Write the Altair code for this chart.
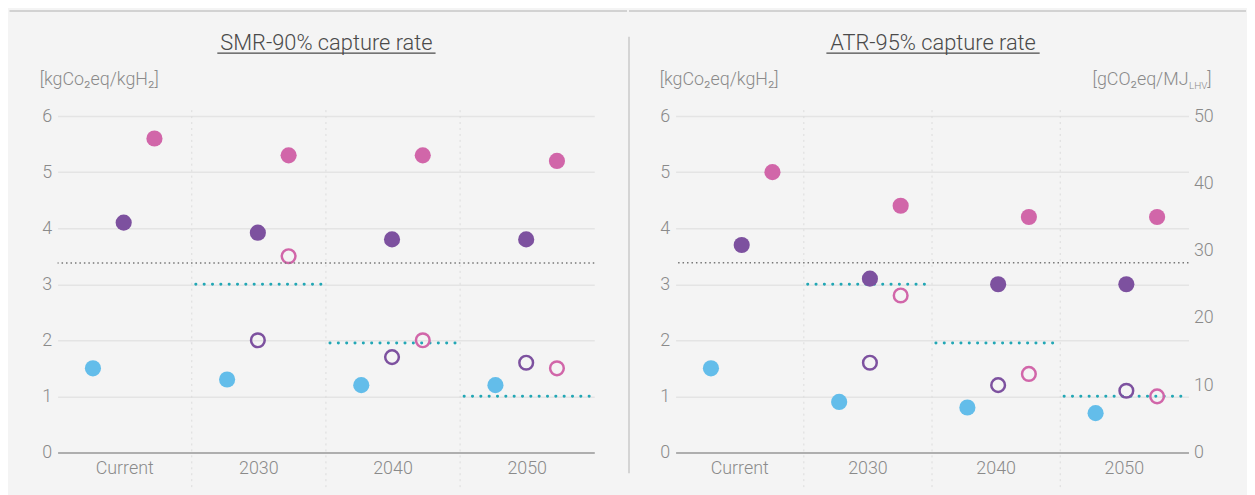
import altair as alt
import pandas as pd

# ---------------- data ----------------
CATEGORIES = ["Current", "2030", "2040", "2050"]
SERIES = ["Series A", "Series B", "Series C"]          # blue, purple, pink
COLORS = ["#63bdea", "#7d519f", "#d166a9"]

# SMR - 90% capture rate  (kgCO2eq/kgH2)
SMR_A = [1.5, 1.3, 1.2, 1.2]
SMR_B = [4.1, 3.92, 3.8, 3.8]
SMR_C = [5.6, 5.3, 5.3, 5.2]
OPEN_CATS = ["2030", "2040", "2050"]
SMR_B_OPEN = [2.0, 1.7, 1.6]
SMR_C_OPEN = [3.5, 2.0, 1.5]

# ATR - 95% capture rate  (kgCO2eq/kgH2)
ATR_A = [1.5, 0.9, 0.8, 0.7]
ATR_B = [3.7, 3.1, 3.0, 3.0]
ATR_C = [5.0, 4.4, 4.2, 4.2]
ATR_B_OPEN = [1.6, 1.2, 1.1]
ATR_C_OPEN = [2.8, 1.4, 1.0]

TARGET_CATS = ["2030", "2040", "2050"]
TARGET_VALUES = [3.0, 1.95, 1.0]
GRID_CATS = ["2030", "2040", "2050"]
THRESHOLD_KG = 3.38      # kgCO2eq/kgH2
THRESHOLD_G = 28.2       # gCO2eq/MJ
KG_TICKS = [0, 1, 2, 3, 4, 5, 6]
G_TICKS = [0, 10, 20, 30, 40, 50]

FONT = "Roboto"
H = 339
TXT = "#8a8a8a"
SERIES_EXPR = "indexof(['Series A','Series B','Series C'], datum.series) - 1"


def panel(title, a, b, c, b_open, c_open, width, right_axis, underline, spread):
    filled = pd.DataFrame(
        [{"cat": k, "series": SERIES[0], "value": v} for k, v in zip(CATEGORIES, a)]
        + [{"cat": k, "series": SERIES[1], "value": v} for k, v in zip(CATEGORIES, b)]
        + [{"cat": k, "series": SERIES[2], "value": v} for k, v in zip(CATEGORIES, c)]
    )
    hollow = pd.DataFrame(
        [{"cat": k, "series": SERIES[1], "value": v} for k, v in zip(OPEN_CATS, b_open)]
        + [{"cat": k, "series": SERIES[2], "value": v} for k, v in zip(OPEN_CATS, c_open)]
    )
    targets = pd.DataFrame({"cat": TARGET_CATS, "value": TARGET_VALUES})
    grid = pd.DataFrame({"cat": GRID_CATS})

    half = width / len(CATEGORIES) / 2
    xscale = alt.Scale(domain=CATEGORIES, paddingInner=0, paddingOuter=0)
    xaxis = alt.Axis(title=None, labelAngle=0, ticks=False, domain=True,
                     domainColor="#9b9b9b", domainWidth=1.5, grid=False,
                     labelPadding=7, labelFontSize=18, labelColor=TXT,
                     labelFont=FONT, labelFontWeight=300)
    x_enc = alt.X("cat:N", scale=xscale, axis=xaxis)
    yscale = alt.Scale(domain=[0, 6], nice=False, zero=True)
    yaxis = alt.Axis(values=KG_TICKS, title=None, grid=True, gridColor="#e4e4e4",
                     gridWidth=1.5, domain=False, ticks=False, labelPadding=6,
                     labelFontSize=18, labelColor=TXT, labelFont=FONT,
                     labelFontWeight=300)
    y_enc = alt.Y("value:Q", scale=yscale, axis=yaxis)
    xo = alt.XOffset("idx:Q", scale=alt.Scale(domain=[-1, 1],
                                              range=[half + spread[0], half + spread[1]]))
    col = alt.Color("series:N", scale=alt.Scale(domain=SERIES, range=COLORS), legend=None)

    vgrid = alt.Chart(grid).mark_rule(color="#dcdcdc", strokeWidth=1,
                                      strokeDash=[2, 4]).encode(
        x=alt.X("cat:N", scale=xscale, axis=xaxis, bandPosition=0),
        y=alt.value(-6), y2=alt.value(H + 38))

    tgt = alt.Chart(targets).mark_rule(color="#22a7b5", strokeWidth=3,
                                       strokeDash=[0.1, 8.3], strokeCap="round").encode(
        x=alt.X("cat:N", scale=xscale, axis=xaxis, bandPosition=0.03),
        x2=alt.X2("cat:N", bandPosition=1),
        y=y_enc)

    pts = alt.Chart(filled).transform_calculate(idx=SERIES_EXPR).mark_circle(
        size=265, opacity=1).encode(x=x_enc, xOffset=xo, y=y_enc, color=col)
    opn = alt.Chart(hollow).transform_calculate(idx=SERIES_EXPR).mark_point(
        size=190, filled=False, strokeWidth=2.5, opacity=1).encode(
        x=x_enc, xOffset=xo, y=y_enc, color=col)

    one = pd.DataFrame({"t": [title]})
    ttl = alt.Chart(one).mark_text(font=FONT, fontSize=22, fontWeight=300,
                                   color="#4a4a4a", baseline="alphabetic",
                                   align="center").encode(
        x=alt.value(underline[0] / 2 + underline[1] / 2), y=alt.value(-67), text="t:N")
    uline = alt.Chart(one).mark_rule(color="#4a4a4a", strokeWidth=1.2).encode(
        x=alt.value(underline[0]), x2=alt.value(underline[1]), y=alt.value(-63.5))

    ytl = alt.Chart(pd.DataFrame({"t": ["[kgCo₂eq/kgH₂]"]})).mark_text(
        font=FONT, fontSize=18, fontWeight=300, color=TXT, align="left",
        baseline="middle").encode(x=alt.value(-18 if not right_axis else -16),
                                  y=alt.value(-36), text="t:N")

    layers = [vgrid, tgt]
    if right_axis:
        thr = alt.Chart(pd.DataFrame({"g": [THRESHOLD_G]})).mark_rule(
            color="#777777", strokeWidth=1.5, strokeDash=[1.5, 3]).encode(
            y=alt.Y("g:Q", scale=alt.Scale(domain=[0, 50], nice=False),
                    axis=alt.Axis(orient="right", values=G_TICKS, title=None, grid=False,
                                  domain=False, ticks=False, labelPadding=5,
                                  labelFontSize=18, labelColor=TXT, labelFont=FONT,
                                  labelFontWeight=300)))
    else:
        thr = alt.Chart(pd.DataFrame({"value": [THRESHOLD_KG]})).mark_rule(
            color="#777777", strokeWidth=1.5, strokeDash=[1.5, 3]).encode(y=y_enc)

    base = alt.layer(*layers, pts, opn)
    extras = [ttl, uline, ytl]
    if right_axis:
        r1 = alt.Chart(pd.DataFrame({"t": ["[gCO₂eq/MJ"]})).mark_text(
            font=FONT, fontSize=18, fontWeight=300, color=TXT, align="right",
            baseline="middle").encode(x=alt.value(517), y=alt.value(-36), text="t:N")
        r2 = alt.Chart(pd.DataFrame({"t": ["LHV"]})).mark_text(
            font=FONT, fontSize=10, fontWeight=300, color=TXT, align="left",
            baseline="middle").encode(x=alt.value(517.5), y=alt.value(-30), text="t:N")
        r3 = alt.Chart(pd.DataFrame({"t": ["]"]})).mark_text(
            font=FONT, fontSize=18, fontWeight=300, color=TXT, align="left",
            baseline="middle").encode(x=alt.value(536), y=alt.value(-36), text="t:N")
        sep = alt.Chart(one).mark_rule(color="#c9c9c9", strokeWidth=1.5).encode(
            x=alt.value(-47), y=alt.value(-80), y2=alt.value(H + 21))
        top = alt.Chart(one).mark_rule(color="#d2d2d2", strokeWidth=2).encode(
            x=alt.value(-47), x2=alt.value(575), y=alt.value(-106))
        extras += [r1, r2, r3, sep, top]
        ch = alt.layer(base, thr, *extras).resolve_scale(y="independent")
    else:
        top = alt.Chart(one).mark_rule(color="#d2d2d2", strokeWidth=2).encode(
            x=alt.value(-48.5), x2=alt.value(574), y=alt.value(-106))
        extras += [top]
        ch = alt.layer(base, thr, *extras)
    return ch.properties(width=width, height=H)


left = panel("SMR-90% capture rate", SMR_A, SMR_B, SMR_C, SMR_B_OPEN, SMR_C_OPEN,
             541, False, (161, 381), [-32, 30])
right = panel("ATR-95% capture rate", ATR_A, ATR_B, ATR_C, ATR_B_OPEN, ATR_C_OPEN,
              517, True, (152, 367), [-34, 31])

chart = alt.hconcat(left, right, spacing=0).properties(
    padding={"left": 0, "top": 0, "right": 0, "bottom": 4},
    background="#f4f4f4",
).configure(font=FONT).configure_view(strokeWidth=0, stroke="transparent")

chart.save("out.html", embed_options={"renderer": "svg", "actions": False})
